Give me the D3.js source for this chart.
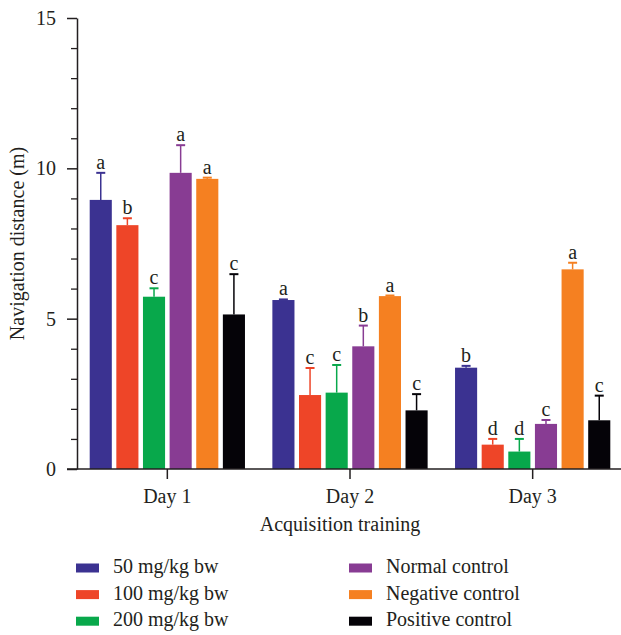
<!DOCTYPE html>
<html>
<head>
<meta charset="utf-8">
<script src="https://cdn.jsdelivr.net/npm/d3@7"></script>
<style>
  html, body { margin: 0; padding: 0; background: #fff; }
  svg { display: block; }
  text { font-family: "Liberation Serif", "DejaVu Serif", serif; fill: #231f20; }
</style>
</head>
<body>
<div id="chart"></div>
<script>
// ---- data ----
const days = ["Day 1", "Day 2", "Day 3"];
const seriesNames = ["50 mg/kg bw", "100 mg/kg bw", "200 mg/kg bw", "Normal control", "Negative control", "Positive control"];
const seriesColors = ["#3b3291", "#ee4528", "#08a84b", "#883c93", "#f58021", "#050308"];
// means per series, ordered by day
const means = {
  "50 mg/kg bw":      [8.95, 5.62, 3.37],
  "100 mg/kg bw":     [8.11, 2.46, 0.81],
  "200 mg/kg bw":     [5.73, 2.54, 0.58],
  "Normal control":   [9.85, 4.08, 1.50],
  "Negative control": [9.65, 5.75, 6.64],
  "Positive control": [5.14, 1.95, 1.62]
};
// upper error (error bar top value)
const errTops = {
  "50 mg/kg bw":      [9.85, 5.64, 3.43],
  "100 mg/kg bw":     [8.34, 3.36, 1.00],
  "200 mg/kg bw":     [6.01, 3.46, 1.00],
  "Normal control":   [10.77, 4.77, 1.63],
  "Negative control": [9.69, 5.77, 6.86],
  "Positive control": [6.48, 2.49, 2.44]
};
const letters = {
  "50 mg/kg bw":      ["a", "a", "b"],
  "100 mg/kg bw":     ["b", "c", "d"],
  "200 mg/kg bw":     ["c", "c", "d"],
  "Normal control":   ["a", "b", "c"],
  "Negative control": ["a", "a", "a"],
  "Positive control": ["c", "c", "c"]
};
const majorTicks = [0, 5, 10, 15];
const minorTicks = [1, 2, 3, 4, 6, 7, 8, 9, 11, 12, 13, 14];
const yTitle = "Navigation distance (m)";
const xTitle = "Acquisition training";

// ---- layout ----
const W = 621, H = 635;
const svg = d3.select("#chart").append("svg").attr("width", W).attr("height", H);
const axisColor = "#231f20";
const FS = 20;

const y = d3.scaleLinear().domain([0, 15]).range([469, 18]);
const x0 = d3.scaleBand().domain(days).range([76, 624]).paddingInner(0.15).paddingOuter(0.075);
const x1 = d3.scaleBand().domain(seriesNames).range([0, x0.bandwidth()]).paddingInner(0.17).paddingOuter(0);
const color = d3.scaleOrdinal().domain(seriesNames).range(seriesColors);

const axisX = 77;

// ---- bars ----
const rows = [];
days.forEach((d, i) => seriesNames.forEach(s => rows.push({
  day: d, series: s, v: means[s][i], e: errTops[s][i], l: letters[s][i]
})));

const g = svg.append("g");
g.selectAll("rect.bar").data(rows).join("rect")
  .attr("class", "bar")
  .attr("x", r => x0(r.day) + x1(r.series))
  .attr("y", r => y(r.v))
  .attr("width", x1.bandwidth())
  .attr("height", r => y(0) - y(r.v))
  .attr("fill", r => color(r.series));

// error bars
const cx = r => x0(r.day) + x1(r.series) + x1.bandwidth() / 2;
g.selectAll("line.err").data(rows).join("line")
  .attr("class", "err")
  .attr("x1", cx).attr("x2", cx)
  .attr("y1", r => y(r.v)).attr("y2", r => y(r.e))
  .attr("stroke", r => color(r.series)).attr("stroke-width", 1.5);
g.selectAll("line.cap").data(rows).join("line")
  .attr("class", "cap")
  .attr("x1", r => cx(r) - 4.5).attr("x2", r => cx(r) + 4.5)
  .attr("y1", r => y(r.e)).attr("y2", r => y(r.e))
  .attr("stroke", r => color(r.series)).attr("stroke-width", 2);

// letters
g.selectAll("text.sig").data(rows).join("text")
  .attr("class", "sig")
  .attr("x", cx)
  .attr("y", r => y(r.e) - 4)
  .attr("text-anchor", "middle")
  .attr("font-size", FS)
  .text(r => r.l);

// ---- y axis ----
const yAxisG = svg.append("g").attr("transform", `translate(${axisX},0)`)
  .call(d3.axisLeft(y).tickValues(majorTicks).tickSize(10).tickSizeOuter(0).tickPadding(11).tickFormat(d3.format("d")));
yAxisG.select(".domain").attr("stroke", axisColor).attr("stroke-width", 1.5);
yAxisG.selectAll(".tick line").attr("stroke", axisColor).attr("stroke-width", 1.5);
yAxisG.selectAll(".tick text").attr("font-size", FS).attr("font-family", "Liberation Serif").attr("fill", axisColor);

const yMinorG = svg.append("g").attr("transform", `translate(${axisX},0)`)
  .call(d3.axisLeft(y).tickValues(minorTicks).tickSize(6).tickSizeOuter(0).tickFormat(""));
yMinorG.select(".domain").remove();
yMinorG.selectAll(".tick line").attr("stroke", axisColor).attr("stroke-width", 1.3);

// ---- x axis ----
const xAxisG = svg.append("g").attr("transform", `translate(0,${y(0)})`)
  .call(d3.axisBottom(x0).tickSize(10).tickSizeOuter(0).tickPadding(10));
xAxisG.select(".domain").remove();
xAxisG.append("line").attr("x1", 67).attr("x2", 621).attr("y1", 0).attr("y2", 0)
  .attr("stroke", axisColor).attr("stroke-width", 1.5);
xAxisG.selectAll(".tick line").attr("stroke", axisColor).attr("stroke-width", 1.5);
xAxisG.selectAll(".tick text").attr("font-size", FS).attr("font-family", "Liberation Serif").attr("fill", axisColor);

// titles
svg.append("text")
  .attr("transform", `translate(24, ${(y(0) + y(15)) / 2}) rotate(-90)`)
  .attr("text-anchor", "middle").attr("font-size", FS).text(yTitle);
svg.append("text")
  .attr("x", (x0.range()[0] + x0.range()[1]) / 2 - 10).attr("y", 531)
  .attr("text-anchor", "middle").attr("font-size", FS).text(xTitle);

// ---- legend ----
const legendCols = [76, 349];
const legendRows = [568, 594.6, 621.2];
const lg = svg.append("g");
seriesNames.forEach((s, i) => {
  const col = Math.floor(i / 3), row = i % 3;
  const lx = legendCols[col], ly = legendRows[row];
  lg.append("rect").attr("x", lx).attr("y", ly - 4.5).attr("width", 23).attr("height", 9).attr("fill", color(s));
  lg.append("text").attr("x", lx + 37).attr("y", ly + 5).attr("font-size", FS).text(s);
});
</script>
</body>
</html>
